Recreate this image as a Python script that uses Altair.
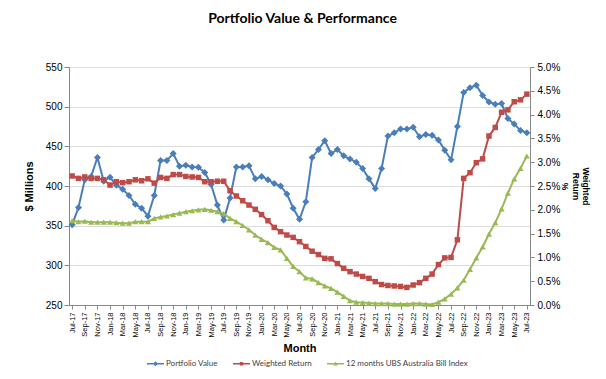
import altair as alt
import pandas as pd

months = pd.date_range("2017-07-01", "2023-07-01", freq="MS").strftime("%b-%y").tolist()

portfolio_value = [
    351, 373, 408, 412, 436, 406, 411, 401, 396, 388, 377, 372, 362, 388, 432, 432, 441, 425,
    426, 424, 423.5, 417, 402, 376, 357, 385, 424, 424, 425.5, 409, 412, 408, 403, 400, 390,
    372, 358, 380, 436, 446, 457, 441, 446, 438, 434, 430, 422, 409, 397, 422, 463, 467, 472,
    472, 474, 462, 465, 464, 458, 445, 433, 475, 518, 524, 527, 514, 506, 503, 504, 485, 478,
    470, 467,
]
weighted_return = [
    2.71, 2.66, 2.69, 2.66, 2.66, 2.63, 2.52, 2.59, 2.57, 2.59, 2.63, 2.61, 2.65, 2.56, 2.68,
    2.66, 2.74, 2.74, 2.70, 2.69, 2.68, 2.59, 2.59, 2.60, 2.60, 2.40, 2.29, 2.19, 2.10, 2.01,
    1.90, 1.77, 1.63, 1.54, 1.47, 1.42, 1.33, 1.23, 1.13, 1.06, 0.98, 0.97, 0.87, 0.77, 0.70,
    0.65, 0.60, 0.56, 0.49, 0.43, 0.41, 0.40, 0.39, 0.37, 0.42, 0.47, 0.56, 0.65, 0.85, 0.99,
    1.00, 1.37, 2.66, 2.78, 2.99, 3.07, 3.55, 3.73, 4.05, 4.10, 4.27, 4.31, 4.43,
]
bill_index = [
    1.77, 1.75, 1.76, 1.74, 1.74, 1.74, 1.74, 1.73, 1.72, 1.72, 1.75, 1.75, 1.75, 1.82, 1.85,
    1.87, 1.90, 1.93, 1.96, 1.98, 2.00, 2.01, 1.99, 1.96, 1.92, 1.82, 1.75, 1.67, 1.58, 1.47,
    1.38, 1.31, 1.21, 1.16, 0.98, 0.81, 0.70, 0.57, 0.55, 0.47, 0.40, 0.35, 0.27, 0.18, 0.09,
    0.06, 0.05, 0.04, 0.03, 0.03, 0.03, 0.02, 0.02, 0.02, 0.03, 0.03, 0.02, 0.01, 0.06, 0.13,
    0.23, 0.36, 0.52, 0.75, 0.99, 1.22, 1.49, 1.73, 2.02, 2.35, 2.65, 2.87, 3.13,
]

series_names = ["Portfolio Value", "Weighted Return", "12 months UBS Australia Bill Index"]
series_colors = ["#4A7EBB", "#BE4B48", "#98B954"]
left_ticks = [250, 300, 350, 400, 450, 500, 550]
right_ticks = [0, 0.5, 1, 1.5, 2, 2.5, 3, 3.5, 4, 4.5, 5]

FONT = "Lato"
legend_paths = [
    "M-1,-0.08H1V0.08H-1Z M0,-0.3L0.3,0L0,0.3L-0.3,0Z",
    "M-1,-0.08H1V0.08H-1Z M-0.2,-0.2H0.2V0.2H-0.2Z",
    "M-1,-0.08H1V0.08H-1Z M0,-0.26L0.26,0.2H-0.26Z",
]

df = pd.DataFrame({"month": months, "pv": portfolio_value, "wr": weighted_return, "bill": bill_index})

x_enc = alt.X(
    "month:O",
    sort=months,
    scale=alt.Scale(type="point", padding=0.5),
    axis=alt.Axis(
        values=months[::2], title="Month", labelAngle=270, labelFontSize=7.5,
        tickSize=4, labelPadding=3, titlePadding=5, titleFontWeight="bold",
    ),
)

y_left = alt.Y(
    "pv:Q",
    scale=alt.Scale(domain=[250, 550], nice=False, zero=False),
    axis=alt.Axis(
        orient="left", values=left_ticks, title="$ Millions", grid=True,
        tickSize=5, labelPadding=2, titlePadding=11, titleFontWeight="bold",
    ),
)
right_axis = alt.Axis(
    orient="right", values=right_ticks, title=["Weighted", "Return", "%"], grid=False,
    labelExpr="format(datum.value, '.1f') + '%'", tickSize=4, labelPadding=3,
    titlePadding=0, titleFontWeight="bold", titleLineHeight=10.5, titleFontSize=8.5,
)
right_scale = alt.Scale(domain=[0, 5], nice=False, zero=True)

base = alt.Chart(df)
pv_line = base.mark_line(color=series_colors[0], strokeWidth=2).encode(x=x_enc, y=y_left)
pv_pts = base.mark_point(shape="diamond", filled=True, size=49, color=series_colors[0], opacity=1).encode(x=x_enc, y=y_left)

y_wr = alt.Y("wr:Q", scale=right_scale, axis=right_axis)
y_bill = alt.Y("bill:Q", scale=right_scale, axis=right_axis)
wr_line = base.mark_line(color=series_colors[1], strokeWidth=2).encode(x=x_enc, y=y_wr)
wr_pts = base.mark_point(shape="square", filled=True, size=30, color=series_colors[1], opacity=1).encode(x=x_enc, y=y_wr)
bill_line = base.mark_line(color=series_colors[2], strokeWidth=2).encode(x=x_enc, y=y_bill)
bill_pts = base.mark_point(shape="triangle-up", filled=True, size=36, color=series_colors[2], opacity=1).encode(x=x_enc, y=y_bill)

leg_def = alt.Legend(
    orient="none", legendX=78, legendY=288, direction="horizontal", columns=3, title=None,
    symbolSize=289, labelFontSize=8, labelFont=FONT, labelColor="#404040", labelOffset=2,
    columnPadding=15, padding=0, symbolStrokeWidth=0,
)
leg_layer = (
    alt.Chart(pd.DataFrame({"series": series_names}))
    .transform_filter("false")
    .mark_point(filled=True, opacity=1)
    .encode(
        color=alt.Color("series:N", scale=alt.Scale(domain=series_names, range=series_colors), legend=leg_def),
        shape=alt.Shape("series:N", scale=alt.Scale(domain=series_names, range=legend_paths), legend=leg_def),
    )
)

left = alt.layer(pv_line, pv_pts)
right = alt.layer(wr_line, wr_pts, bill_line, bill_pts, leg_layer)

chart = (
    alt.layer(left, right)
    .resolve_scale(y="independent")
    .properties(
        width=461,
        height=238,
        autosize=alt.AutoSizeParams(type="none"),
        padding={"left": 61, "top": 59, "right": 68, "bottom": 66},
        title=alt.TitleParams(
            "Portfolio Value & Performance", font=FONT, fontSize=14, fontWeight="bold",
            color="black", anchor="middle", offset=36, dx=3,
        ),
    )
    .configure_view(stroke=None)
    .configure_axis(
        labelFont=FONT, titleFont=FONT, labelFontSize=8.5, titleFontSize=8.5,
        labelColor="#404040", titleColor="#000000", domainColor="#868686",
        tickColor="#868686", gridColor="#b5b5b5",
    )
    .configure(background="white")
)

chart.save("out.html", embed_options={"renderer": "svg", "actions": False})
